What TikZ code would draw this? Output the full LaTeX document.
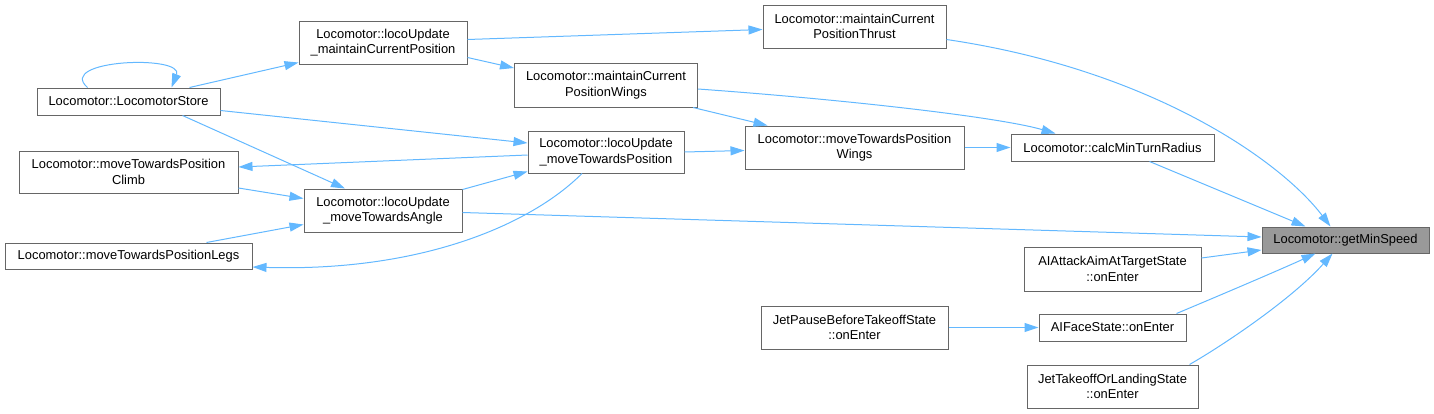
\documentclass[tikz,border=0pt]{standalone}
\usepackage{fontspec}
\setmainfont{Liberation Sans}
\usetikzlibrary{arrows.meta}

\definecolor{edgeblue}{HTML}{63B8FF}
\definecolor{boxgray}{HTML}{666666}
\definecolor{hlgray}{HTML}{999999}

\tikzset{
    fn/.style={draw=boxgray, line width=1pt, fill=white, inner sep=0pt, align=center,
        font=\fontsize{12.9}{15.5}\selectfont},
    cur/.style={fn, fill=hlgray},
    call/.style={draw=edgeblue, line width=1pt, -{Triangle[length=14pt, width=9pt]}},
}

\begin{document}
\begin{tikzpicture}[x=1pt, y=-1pt]
                    % Parameters
                    \def\colA{128.5}
                    \def\colB{383}
                    \def\colC{606}
                    \def\colD{854.5}
                    \def\colE{1112.5}
                    \def\colF{1345.5}

                    \useasboundingbox (0,0) rectangle (1434,413);

                    % Function boxes
                    \node[cur, minimum width=167pt, minimum height=26pt] (gms) at (\colF,240) {Locomotor::getMinSpeed};
                    \node[fn, minimum width=203pt, minimum height=27pt] (cmtr) at (\colE,147.5) {Locomotor::calcMinTurnRadius};
                    \node[fn, minimum width=177pt, minimum height=44pt] (aaat) at (\colE,269) {AIAttackAimAtTargetState\\::onEnter};
                    \node[fn, minimum width=147pt, minimum height=27pt] (afs) at (\colE,327.5) {AIFaceState::onEnter};
                    \node[fn, minimum width=171pt, minimum height=43pt] (jtol) at (\colE,386.5) {JetTakeoffOrLandingState\\::onEnter};
                    \node[fn, minimum width=183pt, minimum height=43pt] (mcpt) at (\colD,26.5) {Locomotor::maintainCurrent\\PositionThrust};
                    \node[fn, minimum width=219pt, minimum height=43pt] (mtpw) at (\colD,147.5) {Locomotor::moveTowardsPosition\\Wings};
                    \node[fn, minimum width=187pt, minimum height=43pt] (jpbt) at (\colD,327.5) {JetPauseBeforeTakeoffState\\::onEnter};
                    \node[fn, minimum width=183pt, minimum height=44pt] (mcpw) at (\colC,85) {Locomotor::maintainCurrent\\PositionWings};
                    \node[fn, minimum width=156pt, minimum height=42pt] (lumtp) at (\colC,152) {Locomotor::locoUpdate\\\_moveTowardsPosition};
                    \node[fn, minimum width=168pt, minimum height=43pt] (lumcp) at (\colB,42.5) {Locomotor::locoUpdate\\\_maintainCurrentPosition};
                    \node[fn, minimum width=158pt, minimum height=43pt] (lumta) at (\colB,210.5) {Locomotor::locoUpdate\\\_moveTowardsAngle};
                    \node[fn, minimum width=183pt, minimum height=27pt] (ls) at (\colA,101.5) {Locomotor::LocomotorStore};
                    \node[fn, minimum width=219pt, minimum height=42pt] (mtpc) at (\colA,172) {Locomotor::moveTowardsPosition\\Climb};
                    \node[fn, minimum width=247pt, minimum height=26pt] (mtpl) at (\colA,256) {Locomotor::moveTowardsPositionLegs};

                    % Calls into getMinSpeed
                    \draw[call] ([xshift=37pt]cmtr.south) -- ([xshift=-40pt]gms.north);
                    \draw[call] ([yshift=-13pt]mcpt.east) .. controls +(204,30) and +(-50,-66) .. ([xshift=-15pt]gms.north);
                    \draw[call] ([yshift=-2pt]lumta.east) -- ([yshift=3pt]gms.west);
                    \draw[call] ([yshift=11pt]aaat.east) -- ([yshift=-10pt]gms.west);
                    \draw[call] ([xshift=64pt]afs.north) .. controls +(43,-18) and +(-35,16) .. ([xshift=-30pt]gms.south);
                    \draw[call] ([xshift=77pt]jtol.north) .. controls +(35,-20) and +(-40,45) .. ([xshift=-13pt]gms.south);

                    % Calls into calcMinTurnRadius
                    \draw[call] (mtpw.east) -- (cmtr.west);
                    \draw[call] ([yshift=-4pt]mcpw.east) .. controls +(153,11) and +(-55,-16) .. ([xshift=-57pt]cmtr.north);

                    % Calls into moveTowardsPositionWings
                    \draw[call] (lumtp.east) -- ([yshift=-3pt]mtpw.west);
                    \draw[call] ([xshift=87pt]mcpw.south) -- ([xshift=-87pt]mtpw.north);

                    % maintainCurrentPosition branch
                    \draw[call] ([yshift=3pt]lumcp.east) -- ([yshift=-3pt]mcpt.west);
                    \draw[call] ([yshift=-15pt]lumcp.east) -- ([yshift=17pt]mcpw.west);
                    \draw[call] ([xshift=61pt]ls.north) -- ([yshift=2pt]lumcp.south west);
                    \draw[call] ([xshift=-41pt]ls.north) .. controls +(-32,-28) and +(13,-33) .. ([xshift=43pt]ls.north);

                    % moveTowards branch
                    \draw[call] ([yshift=-9pt]ls.east) -- ([yshift=9pt]lumtp.west);
                    \draw[call] ([yshift=-3pt]lumtp.west) -- ([yshift=5pt]mtpc.east);
                    \draw[call] ([xshift=54pt]ls.south) -- ([xshift=-38pt]lumta.north);
                    \draw[call] ([yshift=-16pt]mtpc.east) -- ([yshift=12pt]lumta.west);
                    \draw[call] ([xshift=78pt]mtpl.north) -- ([yshift=-14pt]lumta.west);
                    \draw[call] ([yshift=-1pt]lumta.north east) -- ([yshift=2pt]lumtp.south west);
                    \draw[call] ([xshift=-24pt]lumtp.south) .. controls +(-52,52) and +(167,5) .. ([yshift=-11pt]mtpl.east);

                    % State callers
                    \draw[call] (jpbt.east) -- (afs.west);
                \end{tikzpicture}
\end{document}
